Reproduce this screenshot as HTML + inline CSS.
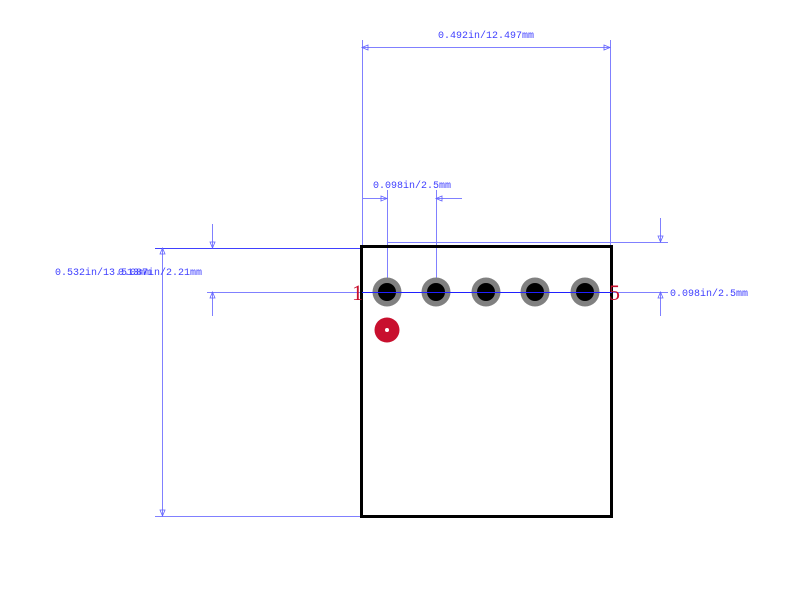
<!DOCTYPE html>
<html><head><style>body{margin:0;background:#fff}svg{display:block}</style></head><body>
<svg width="800" height="616" xmlns="http://www.w3.org/2000/svg" font-family="Liberation Serif, serif" font-size="11">
<rect width="800" height="616" fill="#fff"/>
<g stroke="#8080ff" stroke-width="1" fill="none">
<line x1="362.5" y1="40" x2="362.5" y2="246"/>
<line x1="610.5" y1="40" x2="610.5" y2="246"/>
<line x1="362" y1="47.5" x2="610" y2="47.5"/>
<line x1="387.5" y1="190" x2="387.5" y2="292"/>
<line x1="436.5" y1="190" x2="436.5" y2="292"/>
<line x1="362" y1="198.5" x2="387" y2="198.5"/>
<line x1="436" y1="198.5" x2="462" y2="198.5"/>
<line x1="387" y1="242.5" x2="668" y2="242.5"/>
<line x1="660.5" y1="218" x2="660.5" y2="242"/>
<line x1="660.5" y1="292" x2="660.5" y2="316"/>
<line x1="162.5" y1="248" x2="162.5" y2="516"/>
<line x1="155" y1="516.5" x2="361" y2="516.5"/>
<line x1="212.5" y1="224" x2="212.5" y2="248"/>
<line x1="212.5" y1="292" x2="212.5" y2="316"/>
<line x1="207" y1="292.5" x2="668" y2="292.5"/>
</g>
<line x1="155" y1="248.5" x2="361" y2="248.5" stroke="#4040ff"/>
<g fill="none" stroke="#6060ff" stroke-width="0.8">
<path d="M368,45 L362,47.5 L368,50 Z M604,45 L610,47.5 L604,50 Z"/>
<path d="M381,196 L387,198.5 L381,201 Z M442,196 L436,198.5 L442,201 Z"/>
<path d="M658,236 L660.5,242 L663,236 Z M658,298 L660.5,292 L663,298 Z"/>
<path d="M160,254 L162.5,248 L165,254 Z M160,510 L162.5,516 L165,510 Z"/>
<path d="M210,242 L212.5,248 L215,242 Z M210,298 L212.5,292 L215,298 Z"/>
</g>
<rect x="362" y="247" width="249" height="269" fill="none" stroke="#f0b0b8" stroke-width="1"/>
<rect x="361.5" y="246.5" width="250" height="270" fill="none" stroke="#000" stroke-width="3"/>
<g>
<circle cx="387" cy="292" r="14.5" fill="#808080"/><circle cx="387" cy="292" r="9" fill="#000"/>
<circle cx="436" cy="292" r="14.5" fill="#808080"/><circle cx="436" cy="292" r="9" fill="#000"/>
<circle cx="486" cy="292" r="14.5" fill="#808080"/><circle cx="486" cy="292" r="9" fill="#000"/>
<circle cx="535" cy="292" r="14.5" fill="#808080"/><circle cx="535" cy="292" r="9" fill="#000"/>
<circle cx="585" cy="292" r="14.5" fill="#808080"/><circle cx="585" cy="292" r="9" fill="#000"/>
</g>
<line x1="362" y1="292.5" x2="612" y2="292.5" stroke="#2020ff"/>
<circle cx="387" cy="330" r="12.5" fill="#c8102e"/><circle cx="387" cy="330" r="2" fill="#fff"/>
<g fill="#c8102e" font-size="22"><text x="352" y="300">1</text><text x="609" y="300">5</text></g>
<g fill="#4040ff" font-family="Liberation Mono, monospace" font-size="10">
<text x="438" y="38">0.492in/12.497mm</text>
<text x="373" y="188">0.098in/2.5mm</text>
<text x="670" y="296">0.098in/2.5mm</text>
<text x="55" y="275">0.532in/13.513mm</text>
<text x="118" y="275">0.087in/2.21mm</text>
</g>
</svg>
</body></html>
